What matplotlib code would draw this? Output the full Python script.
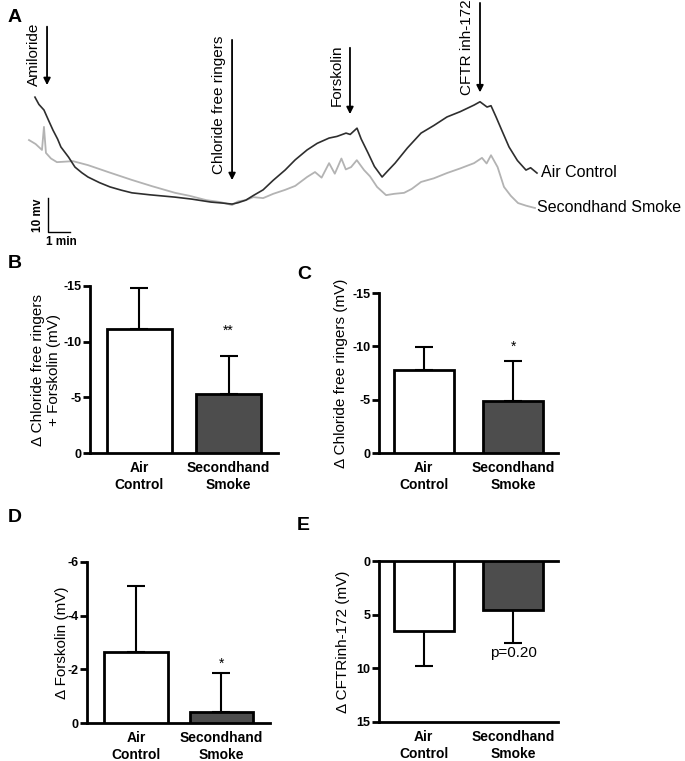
import numpy as np
import matplotlib
matplotlib.use('Agg')
import matplotlib.pyplot as plt

plt.rcParams['font.family'] = ['Liberation Sans', 'DejaVu Sans']

# panel A traces (time in min, potential in mV relative to baseline)
air_t = [0.27, 0.45, 0.68, 0.9, 1.09, 1.3, 1.45, 1.8, 2.09, 2.4, 2.68, 3.2, 3.68, 4.2, 4.68,
         5.5, 6.64, 7.4, 8.27, 8.8, 9.23, 9.5, 9.86, 10.2, 10.64, 11.1, 11.64, 12.1, 12.64,
         13.1, 13.64, 14.0, 14.41, 14.6, 14.91, 15.1, 15.41, 15.7, 16.05, 16.3, 16.64, 17.2,
         17.82, 18.4, 19.0, 19.6, 20.23, 20.5, 20.82, 21.0, 21.23, 21.5, 21.82, 22.2, 22.59,
         22.8, 23.09]
air_v = [34.2, 32.0, 30.3, 27.0, 24.2, 21.5, 19.1, 16.0, 13.0, 11.3, 10.0, 8.3, 7.0, 6.0, 5.2,
         4.6, 3.9, 3.3, 2.4, 2.1, 1.8, 2.2, 3.0, 4.4, 6.1, 9.0, 12.1, 15.2, 18.2,
         20.2, 21.8, 22.3, 23.3, 22.9, 24.8, 21.5, 17.3, 13.2, 10.0, 11.8, 14.2, 18.8,
         23.3, 25.6, 28.2, 29.8, 31.8, 32.8, 31.2, 31.6, 28.2, 24.0, 19.1, 15.0, 12.1,
         12.8, 11.2]
shs_t = [0.0, 0.3, 0.59, 0.68, 0.77, 1.0, 1.27, 2.0, 2.68, 3.6, 4.68, 5.6, 6.64, 7.3, 8.05,
         8.7, 9.23, 9.5, 9.86, 10.2, 10.64, 11.1, 11.64, 12.1, 12.64, 13.0, 13.3, 13.64,
         13.9, 14.2, 14.4, 14.64, 14.9, 15.23, 15.5, 15.82, 16.0, 16.23, 16.6, 17.05, 17.4,
         17.82, 18.4, 19.0, 19.6, 20.23, 20.59, 20.8, 21.0, 21.3, 21.59, 21.9, 22.23, 22.6, 23.0]
shs_v = [21.2, 20.0, 18.2, 25.2, 17.3, 15.6, 14.5, 14.8, 13.6, 11.5, 9.1, 7.2, 5.2, 4.3, 3.0,
         2.4, 1.5, 2.6, 3.0, 3.9, 3.6, 4.9, 6.1, 7.3, 10.0, 11.5, 9.8, 14.2,
         11.0, 15.6, 12.3, 13.0, 15.1, 12.1, 10.2, 7.0, 5.9, 4.5, 4.9, 5.2, 6.4,
         8.5, 9.6, 11.2, 12.6, 14.2, 15.8, 14.1, 16.6, 13.0, 7.0, 4.3, 2.1, 1.3, 0.6]

# drug additions: label, time, arrow tip, arrow tail
drugs = ['Amiloride', 'Chloride free ringers', 'Forskolin', 'CFTR inh-172']
drug_t = [0.82, 9.23, 14.59, 20.5]
drug_tip = [37.0, 8.2, 28.2, 34.8]
drug_top = [56.4, 52.4, 50.0, 63.6]

groups = ['Air\nControl', 'Secondhand\nSmoke']
b_mean = [-11.1, -5.3]
b_err = [3.7, 3.4]
c_mean = [-7.8, -4.9]
c_err = [2.1, 3.7]
d_mean = [-2.65, -0.4]
d_err = [2.45, 1.45]
e_mean = [6.5, 4.6]
e_err = [3.3, 3.0]

W, H = 685, 761
fig = plt.figure(figsize=(W / 100, H / 100), dpi=100)

# ---- panel A
axa = fig.add_axes([0, 1 - 250 / H, 1, 250 / H])
axa.set_xlim(-29 / 22, (W - 29) / 22)
axa.set_ylim(-40 / 3.3, 210 / 3.3)
axa.axis('off')
axa.plot(shs_t, shs_v, color='#b3b3b3', lw=1.3)
axa.plot(air_t, air_v, color='#2e2e2e', lw=1.2)
for name, t, tip, top in zip(drugs, drug_t, drug_tip, drug_top):
    axa.annotate('', xy=(t, tip), xytext=(t, top),
                 arrowprops=dict(arrowstyle='-|>', color='black', lw=1.3, mutation_scale=10))
    axa.text(t - 0.58, top + 0.3, name, rotation=90, ha='center', va='top', fontsize=11)
axa.text(23.27, 11.5, 'Air Control', ha='left', va='center', fontsize=11.5)
axa.text(23.1, 0.9, 'Secondhand Smoke', ha='left', va='center', fontsize=11.5)
# scale bar
axa.plot([0.86, 0.86, 1.86], [3.6, -6.7, -6.7], color='black', lw=1)
axa.text(0.4, -1.6, '10 mv', rotation=90, ha='center', va='center', fontsize=8.5, fontweight='bold')
axa.text(1.45, -9.8, '1 min', ha='center', va='center', fontsize=8.5, fontweight='bold')


def bar_panel(rect, means, errs, ylim, ticks, xlim, width, ylabel, lab_x):
    ax = fig.add_axes(rect)
    x = np.arange(len(means))
    ax.bar(x, means, width=width, color=['white', '#4d4d4d'], edgecolor='black',
           linewidth=2, zorder=3)
    lo = [e if m < 0 else 0 for m, e in zip(means, errs)]
    hi = [e if m > 0 else 0 for m, e in zip(means, errs)]
    ax.errorbar(x, means, yerr=[lo, hi], fmt='none', ecolor='black', elinewidth=1.5,
                capsize=6.5, capthick=1.5, zorder=2)
    ax.set_ylim(*ylim)
    ax.set_xlim(*xlim)
    ax.set_yticks(ticks)
    ax.set_yticklabels([str(t) for t in ticks])
    ax.set_xticks(x)
    ax.set_xticklabels(groups, fontweight='bold', fontsize=10)
    ax.tick_params(axis='x', length=0, pad=6)
    ax.tick_params(axis='y', length=5, width=2, labelsize=9, pad=1)
    for lbl in ax.get_yticklabels():
        lbl.set_fontweight('bold')
    for s in ['top', 'right']:
        ax.spines[s].set_visible(False)
    for s in ['left', 'bottom']:
        ax.spines[s].set_linewidth(2)
    ax.set_ylabel(ylabel, fontsize=11)
    ax.yaxis.set_label_coords(lab_x, 0.5)
    return ax


axb = bar_panel([90 / W, 1 - 453 / H, 188 / W, 167 / H], b_mean, b_err, (0, -15),
                [-15, -10, -5, 0], (-0.556, 1.556), 0.73,
                '\u0394 Chloride free ringers\n+ Forskolin (mV)', -0.155)
axb.text(1, -11.0, '**', ha='center', va='center', fontsize=10)

axc = bar_panel([379 / W, 1 - 453 / H, 179 / W, 160 / H], c_mean, c_err, (0, -15),
                [-15, -10, -5, 0], (-0.5, 1.5), 0.67,
                '\u0394 Chloride free ringers (mV)', -0.175)
axc.text(1, -10.0, '*', ha='center', va='center', fontsize=10)

axd = bar_panel([87 / W, 1 - 723 / H, 183 / W, 161 / H], d_mean, d_err, (0, -6),
                [-6, -4, -2, 0], (-0.58, 1.57), 0.75,
                '\u0394 Forskolin (mV)', -0.10)
axd.text(1, -2.2, '*', ha='center', va='center', fontsize=10)

axe = bar_panel([379 / W, 1 - 722 / H, 179 / W, 161 / H], e_mean, e_err, (15, 0),
                [0, 5, 10, 15], (-0.5, 1.5), 0.67,
                '\u0394 CFTRinh-172 (mV)', -0.16)
axe.spines['top'].set_visible(True)
axe.spines['top'].set_linewidth(2)
axe.text(1, 8.6, 'p=0.20', ha='center', va='center', fontsize=11)

for letter, px, py in [('A', 8, 18), ('B', 8, 263), ('C', 297, 275), ('D', 8, 518), ('E', 297, 525)]:
    fig.text(px / W, 1 - py / H, letter, fontsize=14, fontweight='bold', ha='left', va='center')

fig.savefig('out.png', dpi=100)
